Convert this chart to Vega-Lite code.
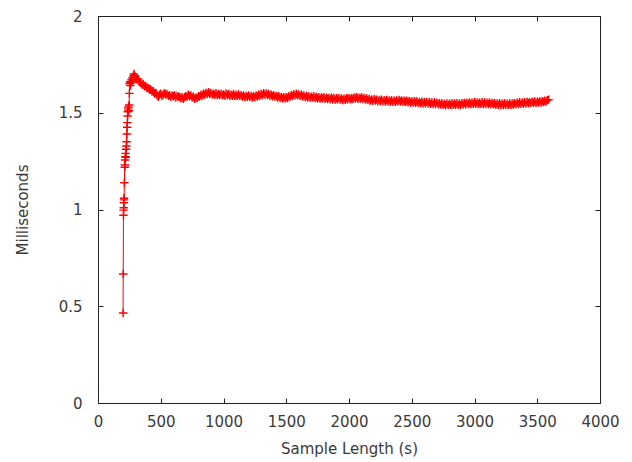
{
  "$schema": "https://vega.github.io/schema/vega-lite/v6.json",
  "width": 502,
  "height": 387,
  "autosize": {"type": "none"},
  "padding": {"left": 98, "top": 16, "right": 32, "bottom": 59},
  "background": "white",
  "config": {
    "view": {"stroke": "#222", "strokeWidth": 1},
    "font": "DejaVu Sans",
    "axis": {
      "grid": false,
      "domain": false,
      "tickColor": "#222",
      "tickSize": -5,
      "labelFlush": false,
      "labelOverlap": false,
      "labelFont": "DejaVu Sans",
      "labelFontSize": 15,
      "labelColor": "#3a3a3a",
      "titleFont": "DejaVu Sans",
      "titleFontSize": 15,
      "titleFontWeight": "normal",
      "titleColor": "#3a3a3a"
    }
  },
  "data": {"values": [
    {"t": 200, "ms": 0.465}, {"t": 201, "ms": 0.667}, {"t": 203, "ms": 0.97}, {"t": 204, "ms": 0.997},
    {"t": 205, "ms": 1.009}, {"t": 206, "ms": 1.035}, {"t": 207, "ms": 1.058}, {"t": 208, "ms": 1.05},
    {"t": 210, "ms": 1.138}, {"t": 213, "ms": 1.218}, {"t": 214, "ms": 1.23}, {"t": 216, "ms": 1.256},
    {"t": 218, "ms": 1.273}, {"t": 220, "ms": 1.29}, {"t": 222, "ms": 1.27}, {"t": 224, "ms": 1.311},
    {"t": 226, "ms": 1.328}, {"t": 228, "ms": 1.35}, {"t": 230, "ms": 1.39}, {"t": 232, "ms": 1.425},
    {"t": 234, "ms": 1.449}, {"t": 236, "ms": 1.483}, {"t": 238, "ms": 1.505}, {"t": 240, "ms": 1.52},
    {"t": 243, "ms": 1.53}, {"t": 245, "ms": 1.51}, {"t": 248, "ms": 1.54}, {"t": 250, "ms": 1.6},
    {"t": 252, "ms": 1.65}, {"t": 255, "ms": 1.66}, {"t": 258, "ms": 1.64}, {"t": 262, "ms": 1.655},
    {"t": 266, "ms": 1.67}, {"t": 270, "ms": 1.662}, {"t": 274, "ms": 1.68}, {"t": 278, "ms": 1.672},
    {"t": 282, "ms": 1.69}, {"t": 286, "ms": 1.7}, {"t": 290, "ms": 1.692}, {"t": 294, "ms": 1.688},
    {"t": 300, "ms": 1.684}, {"t": 310, "ms": 1.672}, {"t": 320, "ms": 1.674}, {"t": 330, "ms": 1.659},
    {"t": 340, "ms": 1.657}, {"t": 350, "ms": 1.646}, {"t": 360, "ms": 1.648}, {"t": 370, "ms": 1.636},
    {"t": 380, "ms": 1.638}, {"t": 390, "ms": 1.627}, {"t": 400, "ms": 1.628}, {"t": 410, "ms": 1.618},
    {"t": 420, "ms": 1.621}, {"t": 430, "ms": 1.61}, {"t": 440, "ms": 1.613}, {"t": 450, "ms": 1.601},
    {"t": 460, "ms": 1.603}, {"t": 470, "ms": 1.589}, {"t": 480, "ms": 1.582}, {"t": 490, "ms": 1.593},
    {"t": 500, "ms": 1.598}, {"t": 510, "ms": 1.588}, {"t": 520, "ms": 1.595}, {"t": 530, "ms": 1.601},
    {"t": 540, "ms": 1.594}, {"t": 550, "ms": 1.596}, {"t": 560, "ms": 1.587}, {"t": 570, "ms": 1.591},
    {"t": 580, "ms": 1.582}, {"t": 590, "ms": 1.59}, {"t": 600, "ms": 1.585}, {"t": 610, "ms": 1.589},
    {"t": 620, "ms": 1.579}, {"t": 630, "ms": 1.587}, {"t": 640, "ms": 1.582}, {"t": 650, "ms": 1.583},
    {"t": 660, "ms": 1.575}, {"t": 670, "ms": 1.58}, {"t": 680, "ms": 1.572}, {"t": 690, "ms": 1.581},
    {"t": 700, "ms": 1.586}, {"t": 710, "ms": 1.584}, {"t": 720, "ms": 1.593}, {"t": 730, "ms": 1.585},
    {"t": 740, "ms": 1.59}, {"t": 750, "ms": 1.579}, {"t": 760, "ms": 1.583}, {"t": 770, "ms": 1.572},
    {"t": 780, "ms": 1.578}, {"t": 790, "ms": 1.576}, {"t": 800, "ms": 1.585}, {"t": 810, "ms": 1.583},
    {"t": 820, "ms": 1.593}, {"t": 830, "ms": 1.589}, {"t": 840, "ms": 1.599}, {"t": 850, "ms": 1.594},
    {"t": 860, "ms": 1.603}, {"t": 870, "ms": 1.597}, {"t": 880, "ms": 1.606}, {"t": 890, "ms": 1.598},
    {"t": 900, "ms": 1.603}, {"t": 910, "ms": 1.594}, {"t": 920, "ms": 1.599}, {"t": 930, "ms": 1.593},
    {"t": 940, "ms": 1.601}, {"t": 950, "ms": 1.592}, {"t": 960, "ms": 1.597}, {"t": 970, "ms": 1.591},
    {"t": 980, "ms": 1.599}, {"t": 990, "ms": 1.59}, {"t": 1000, "ms": 1.595}, {"t": 1010, "ms": 1.589},
    {"t": 1020, "ms": 1.6}, {"t": 1030, "ms": 1.591}, {"t": 1040, "ms": 1.597}, {"t": 1050, "ms": 1.588},
    {"t": 1060, "ms": 1.593}, {"t": 1070, "ms": 1.588}, {"t": 1080, "ms": 1.597}, {"t": 1090, "ms": 1.587},
    {"t": 1100, "ms": 1.593}, {"t": 1110, "ms": 1.587}, {"t": 1120, "ms": 1.595}, {"t": 1130, "ms": 1.586},
    {"t": 1140, "ms": 1.591}, {"t": 1150, "ms": 1.583}, {"t": 1160, "ms": 1.589}, {"t": 1170, "ms": 1.581},
    {"t": 1180, "ms": 1.587}, {"t": 1190, "ms": 1.582}, {"t": 1200, "ms": 1.59}, {"t": 1210, "ms": 1.581},
    {"t": 1220, "ms": 1.587}, {"t": 1230, "ms": 1.579}, {"t": 1240, "ms": 1.585}, {"t": 1250, "ms": 1.58},
    {"t": 1260, "ms": 1.589}, {"t": 1270, "ms": 1.584}, {"t": 1280, "ms": 1.593}, {"t": 1290, "ms": 1.588},
    {"t": 1300, "ms": 1.597}, {"t": 1310, "ms": 1.592}, {"t": 1320, "ms": 1.601}, {"t": 1330, "ms": 1.594},
    {"t": 1340, "ms": 1.6}, {"t": 1350, "ms": 1.592}, {"t": 1360, "ms": 1.597}, {"t": 1370, "ms": 1.588},
    {"t": 1380, "ms": 1.593}, {"t": 1390, "ms": 1.585}, {"t": 1400, "ms": 1.591}, {"t": 1410, "ms": 1.582},
    {"t": 1420, "ms": 1.587}, {"t": 1430, "ms": 1.579}, {"t": 1440, "ms": 1.585}, {"t": 1450, "ms": 1.576},
    {"t": 1460, "ms": 1.581}, {"t": 1470, "ms": 1.574}, {"t": 1480, "ms": 1.58}, {"t": 1490, "ms": 1.574},
    {"t": 1500, "ms": 1.581}, {"t": 1510, "ms": 1.576}, {"t": 1520, "ms": 1.585}, {"t": 1530, "ms": 1.581},
    {"t": 1540, "ms": 1.591}, {"t": 1550, "ms": 1.587}, {"t": 1560, "ms": 1.596}, {"t": 1570, "ms": 1.59},
    {"t": 1580, "ms": 1.598}, {"t": 1590, "ms": 1.59}, {"t": 1600, "ms": 1.595}, {"t": 1610, "ms": 1.587},
    {"t": 1620, "ms": 1.593}, {"t": 1630, "ms": 1.584}, {"t": 1640, "ms": 1.589}, {"t": 1650, "ms": 1.581},
    {"t": 1660, "ms": 1.587}, {"t": 1670, "ms": 1.579}, {"t": 1680, "ms": 1.585}, {"t": 1690, "ms": 1.577},
    {"t": 1700, "ms": 1.583}, {"t": 1710, "ms": 1.578}, {"t": 1720, "ms": 1.585}, {"t": 1730, "ms": 1.576},
    {"t": 1740, "ms": 1.582}, {"t": 1750, "ms": 1.574}, {"t": 1760, "ms": 1.58}, {"t": 1770, "ms": 1.573},
    {"t": 1780, "ms": 1.579}, {"t": 1790, "ms": 1.574}, {"t": 1800, "ms": 1.581}, {"t": 1810, "ms": 1.572},
    {"t": 1820, "ms": 1.578}, {"t": 1830, "ms": 1.571}, {"t": 1840, "ms": 1.577}, {"t": 1850, "ms": 1.57},
    {"t": 1860, "ms": 1.579}, {"t": 1870, "ms": 1.57}, {"t": 1880, "ms": 1.576}, {"t": 1890, "ms": 1.568},
    {"t": 1900, "ms": 1.575}, {"t": 1910, "ms": 1.569}, {"t": 1920, "ms": 1.577}, {"t": 1930, "ms": 1.568},
    {"t": 1940, "ms": 1.574}, {"t": 1950, "ms": 1.566}, {"t": 1960, "ms": 1.573}, {"t": 1970, "ms": 1.567},
    {"t": 1980, "ms": 1.575}, {"t": 1990, "ms": 1.57}, {"t": 2000, "ms": 1.577}, {"t": 2010, "ms": 1.569},
    {"t": 2020, "ms": 1.575}, {"t": 2030, "ms": 1.572}, {"t": 2040, "ms": 1.579}, {"t": 2050, "ms": 1.574},
    {"t": 2060, "ms": 1.581}, {"t": 2070, "ms": 1.572}, {"t": 2080, "ms": 1.578}, {"t": 2090, "ms": 1.573},
    {"t": 2100, "ms": 1.58}, {"t": 2110, "ms": 1.571}, {"t": 2120, "ms": 1.577}, {"t": 2130, "ms": 1.568},
    {"t": 2140, "ms": 1.574}, {"t": 2150, "ms": 1.565}, {"t": 2160, "ms": 1.571}, {"t": 2170, "ms": 1.563},
    {"t": 2180, "ms": 1.569}, {"t": 2190, "ms": 1.562}, {"t": 2200, "ms": 1.571}, {"t": 2210, "ms": 1.563},
    {"t": 2220, "ms": 1.568}, {"t": 2230, "ms": 1.56}, {"t": 2240, "ms": 1.566}, {"t": 2250, "ms": 1.561},
    {"t": 2260, "ms": 1.568}, {"t": 2270, "ms": 1.559}, {"t": 2280, "ms": 1.565}, {"t": 2290, "ms": 1.558},
    {"t": 2300, "ms": 1.566}, {"t": 2310, "ms": 1.558}, {"t": 2320, "ms": 1.564}, {"t": 2330, "ms": 1.557},
    {"t": 2340, "ms": 1.565}, {"t": 2350, "ms": 1.556}, {"t": 2360, "ms": 1.563}, {"t": 2370, "ms": 1.557},
    {"t": 2380, "ms": 1.564}, {"t": 2390, "ms": 1.559}, {"t": 2400, "ms": 1.566}, {"t": 2410, "ms": 1.558},
    {"t": 2420, "ms": 1.564}, {"t": 2430, "ms": 1.556}, {"t": 2440, "ms": 1.562}, {"t": 2450, "ms": 1.555},
    {"t": 2460, "ms": 1.563}, {"t": 2470, "ms": 1.554}, {"t": 2480, "ms": 1.561}, {"t": 2490, "ms": 1.553},
    {"t": 2500, "ms": 1.559}, {"t": 2510, "ms": 1.552}, {"t": 2520, "ms": 1.56}, {"t": 2530, "ms": 1.551},
    {"t": 2540, "ms": 1.558}, {"t": 2550, "ms": 1.55}, {"t": 2560, "ms": 1.556}, {"t": 2570, "ms": 1.549},
    {"t": 2580, "ms": 1.557}, {"t": 2590, "ms": 1.548}, {"t": 2600, "ms": 1.555}, {"t": 2610, "ms": 1.548},
    {"t": 2620, "ms": 1.556}, {"t": 2630, "ms": 1.547}, {"t": 2640, "ms": 1.554}, {"t": 2650, "ms": 1.546},
    {"t": 2660, "ms": 1.553}, {"t": 2670, "ms": 1.545}, {"t": 2680, "ms": 1.554}, {"t": 2690, "ms": 1.545},
    {"t": 2700, "ms": 1.552}, {"t": 2710, "ms": 1.544}, {"t": 2720, "ms": 1.55}, {"t": 2730, "ms": 1.542},
    {"t": 2740, "ms": 1.549}, {"t": 2750, "ms": 1.541}, {"t": 2760, "ms": 1.546}, {"t": 2770, "ms": 1.539},
    {"t": 2780, "ms": 1.548}, {"t": 2790, "ms": 1.54}, {"t": 2800, "ms": 1.547}, {"t": 2810, "ms": 1.541},
    {"t": 2820, "ms": 1.549}, {"t": 2830, "ms": 1.541}, {"t": 2840, "ms": 1.548}, {"t": 2850, "ms": 1.54},
    {"t": 2860, "ms": 1.549}, {"t": 2870, "ms": 1.541}, {"t": 2880, "ms": 1.547}, {"t": 2890, "ms": 1.541},
    {"t": 2900, "ms": 1.549}, {"t": 2910, "ms": 1.543}, {"t": 2920, "ms": 1.551}, {"t": 2930, "ms": 1.544},
    {"t": 2940, "ms": 1.552}, {"t": 2950, "ms": 1.545}, {"t": 2960, "ms": 1.553}, {"t": 2970, "ms": 1.545},
    {"t": 2980, "ms": 1.552}, {"t": 2990, "ms": 1.546}, {"t": 3000, "ms": 1.554}, {"t": 3010, "ms": 1.546},
    {"t": 3020, "ms": 1.553}, {"t": 3030, "ms": 1.545}, {"t": 3040, "ms": 1.552}, {"t": 3050, "ms": 1.546},
    {"t": 3060, "ms": 1.554}, {"t": 3070, "ms": 1.545}, {"t": 3080, "ms": 1.553}, {"t": 3090, "ms": 1.545},
    {"t": 3100, "ms": 1.552}, {"t": 3110, "ms": 1.545}, {"t": 3120, "ms": 1.553}, {"t": 3130, "ms": 1.544},
    {"t": 3140, "ms": 1.551}, {"t": 3150, "ms": 1.543}, {"t": 3160, "ms": 1.549}, {"t": 3170, "ms": 1.541},
    {"t": 3180, "ms": 1.548}, {"t": 3190, "ms": 1.541}, {"t": 3200, "ms": 1.549}, {"t": 3210, "ms": 1.54},
    {"t": 3220, "ms": 1.547}, {"t": 3230, "ms": 1.54}, {"t": 3240, "ms": 1.548}, {"t": 3250, "ms": 1.54},
    {"t": 3260, "ms": 1.547}, {"t": 3270, "ms": 1.541}, {"t": 3280, "ms": 1.549}, {"t": 3290, "ms": 1.541},
    {"t": 3300, "ms": 1.548}, {"t": 3310, "ms": 1.542}, {"t": 3320, "ms": 1.55}, {"t": 3330, "ms": 1.543},
    {"t": 3340, "ms": 1.552}, {"t": 3350, "ms": 1.545}, {"t": 3360, "ms": 1.554}, {"t": 3370, "ms": 1.546},
    {"t": 3380, "ms": 1.553}, {"t": 3390, "ms": 1.547}, {"t": 3400, "ms": 1.555}, {"t": 3410, "ms": 1.548},
    {"t": 3420, "ms": 1.556}, {"t": 3430, "ms": 1.549}, {"t": 3440, "ms": 1.555}, {"t": 3450, "ms": 1.55},
    {"t": 3460, "ms": 1.557}, {"t": 3470, "ms": 1.551}, {"t": 3480, "ms": 1.558}, {"t": 3490, "ms": 1.55},
    {"t": 3500, "ms": 1.557}, {"t": 3510, "ms": 1.552}, {"t": 3520, "ms": 1.559}, {"t": 3530, "ms": 1.553},
    {"t": 3540, "ms": 1.56}, {"t": 3550, "ms": 1.555}, {"t": 3560, "ms": 1.562}, {"t": 3570, "ms": 1.558},
    {"t": 3580, "ms": 1.565}, {"t": 3590, "ms": 1.568}
  ]},
  "layer": [
    {
      "mark": {"type": "line", "color": "#ff0000", "stroke": "#ff0000", "strokeWidth": 1, "clip": true},
      "encoding": {
        "x": {"field": "t", "type": "quantitative", "scale": {"domain": [0, 4000], "nice": false},
          "axis": {"orient": "bottom", "values": [0, 500, 1000, 1500, 2000, 2500, 3000, 3500, 4000], "format": "d", "labelPadding": 16, "title": "Sample Length (s)", "titlePadding": 12}},
        "y": {"field": "ms", "type": "quantitative", "scale": {"domain": [0, 2], "nice": false, "zero": false},
          "axis": {"orient": "left", "values": [0, 0.5, 1, 1.5, 2], "format": "~g", "labelPadding": 21, "title": "Milliseconds", "titlePadding": 28}}
      }
    },
    {
      "mark": {"type": "point", "shape": "M-1,0L1,0M0,-1L0,1", "filled": false, "stroke": "#ff0000", "strokeWidth": 1.4, "size": 70, "opacity": 1, "clip": true},
      "encoding": {
        "x": {"field": "t", "type": "quantitative", "scale": {"domain": [0, 4000], "nice": false},
          "axis": {"orient": "top", "values": [0, 500, 1000, 1500, 2000, 2500, 3000, 3500, 4000], "labels": false, "title": null}},
        "y": {"field": "ms", "type": "quantitative", "scale": {"domain": [0, 2], "nice": false, "zero": false},
          "axis": {"orient": "right", "values": [0, 0.5, 1, 1.5, 2], "labels": false, "title": null}}
      }
    }
  ],
  "resolve": {"axis": {"x": "independent", "y": "independent"}}
}
